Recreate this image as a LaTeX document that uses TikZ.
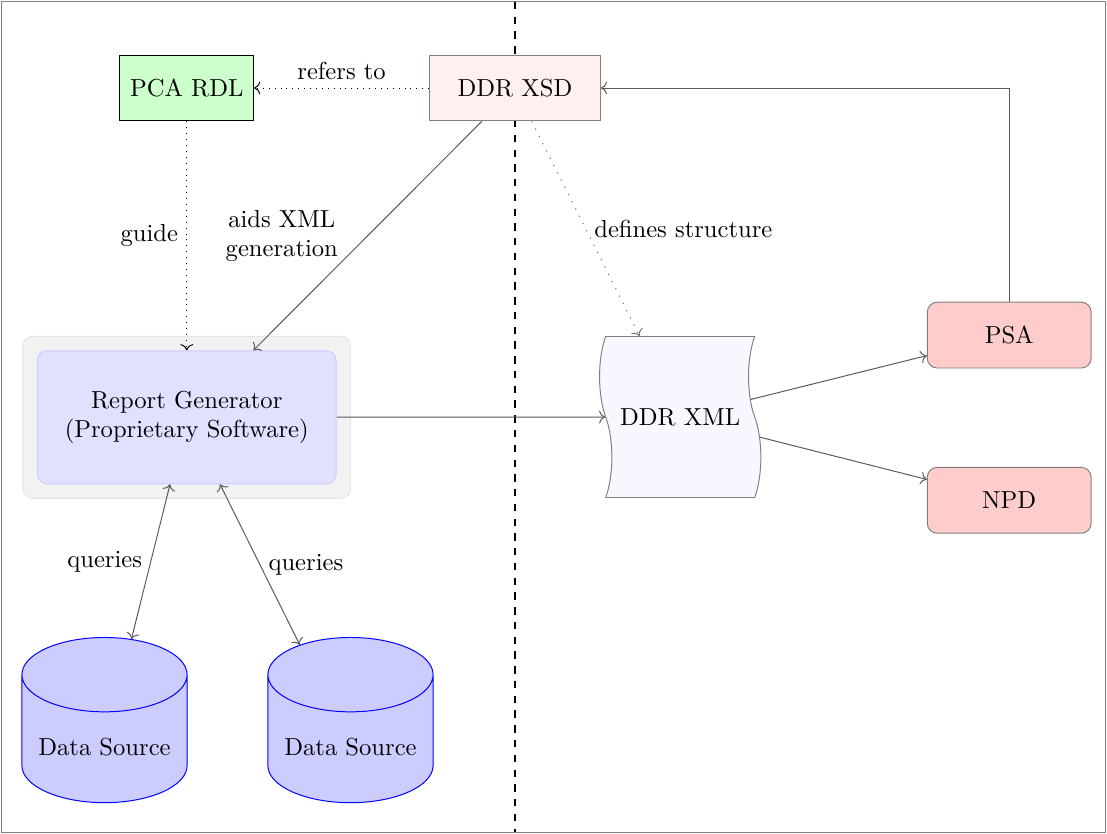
\documentclass[tikz,border=0pt]{standalone}
\usepackage{graphicx}
\usepackage{tikz}
\usetikzlibrary{shapes.geometric, shapes.symbols, arrows.meta, positioning, fit, backgrounds}

\begin{document}
\begin{tikzpicture}[
        box/.style={rectangle, draw=gray, minimum height=0.94cm, align=center},
        schema/.style={box, fill=red!6, minimum width=2.44cm},
        rdlbox/.style={box, draw=black, fill=green!20, minimum width=1.91cm},
        consumer/.style={box, rounded corners, fill=red!20, minimum width=2.34cm},
        engine/.style={rectangle, rounded corners, draw=blue!20, fill=blue!12, minimum width=4.27cm, minimum height=1.9cm, align=center},
        datadoc/.style={tape, rotate=90, draw=gray, fill=blue!3, minimum width=2.3cm, minimum height=2.3cm},
        database/.style={cylinder, shape border rotate=90, aspect=0.5, draw=blue, fill=blue!20, minimum width=2.36cm, minimum height=2.36cm},
        link/.style={->, draw=black!65},
        ref/.style={->, dotted, draw=black}
    ]
        \useasboundingbox (-7.357,1.257) rectangle (8.457,-10.657);

        % schema, vocabulary and the generator
        \node[schema] (xsd) at (0,0) {DDR XSD};
        \node[rdlbox, left=2.5cm of xsd] (rdl) {PCA RDL};
        \node[engine, below=3.27cm of rdl] (rep) {Report Generator\\(Proprietary Software)};

        % generated document and its consumers
        \node[datadoc] (xml) at (2.36,-4.7) {\rotatebox{-90}{DDR XML}};
        \node[consumer] (psa) at (7.06,-3.53) {PSA};
        \node[consumer] (npd) at (7.06,-5.89) {NPD};

        % data sources
        \node[database] (ds1) at (-5.864,-9.414) {Data Source};
        \node[database] (ds2) at (-2.35,-9.414) {Data Source};

        \coordinate (divtop) at (0,1.23);
        \coordinate (divbot) at (0,-10.63);

        \begin{scope}[on background layer]
            \draw[dashed, semithick] (divtop) -- (divbot);
            \node[fit=(rep), inner sep=0.2cm, rounded corners, draw=gray!20, fill=gray!10] (repbox) {};
        \end{scope}

        \draw[ref] (xsd) -- node[above] {refers to} (rdl);
        \draw[ref] (rdl) -- node[left] {guide} (rep);
        \draw[link] (xsd) -- node[left=0.3cm, align=center] {aids XML\\generation} (rep);
        \draw[link, draw=black!55, dash pattern=on 0.5pt off 2.8pt] (xsd) -- node[right] {defines structure} (xml);
        \draw[link] (rep) -- (xml);
        \draw[link] (xml) -- (psa);
        \draw[link] (xml) -- (npd);
        \draw[link] (psa) |- (xsd);
        \draw[link, <->] (rep) -- node[left] {queries} (ds1);
        \draw[link, <->] (rep) -- node[right] {queries} (ds2);

        % outer frame
        \draw[gray] (-7.33,1.23) rectangle (8.43,-10.63);
    \end{tikzpicture}
\end{document}
